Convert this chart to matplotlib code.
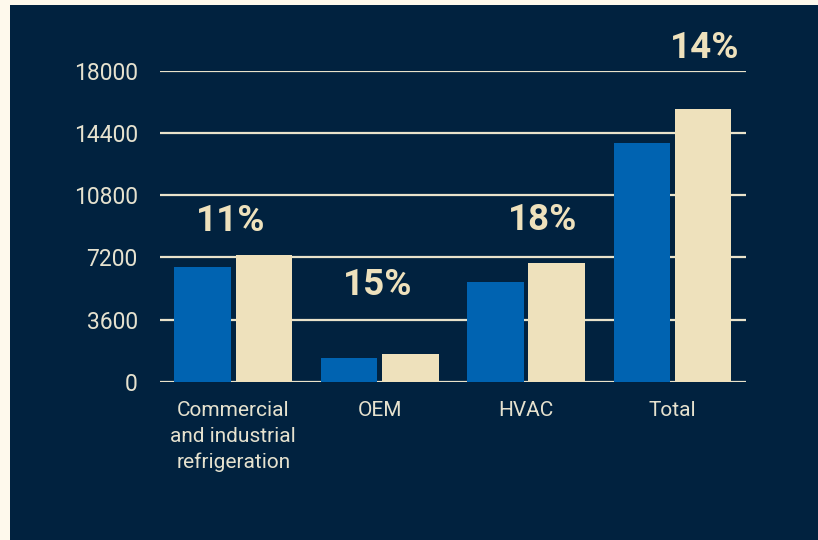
import matplotlib
matplotlib.use("Agg")
import matplotlib.pyplot as plt
from matplotlib.patches import Rectangle
import numpy as np

plt.rcParams['font.family'] = ['Roboto', 'DejaVu Sans']

# Data
categories = ["Commercial\nand industrial\nrefrigeration", "OEM", "HVAC", "Total"]
values_before = [6660, 1360, 5800, 13820]
values_after = [7340, 1580, 6890, 15800]
growth_labels = ["11%", "15%", "18%", "14%"]
y_ticks = [0, 3600, 7200, 10800, 14400, 18000]

# Layout of the growth labels (x offset from group centre, y in data units)
label_dx = [-0.02, -0.01, 0.11, 0.22]
label_y = [9320, 5600, 9370, 19320]

NAVY = '#01223F'
BLUE = '#0063B1'
BEIGE = '#EEE1BC'
CREAM = '#FEF9EC'
TEXT = '#E6E2CF'

W, H = 818, 540
fig = plt.figure(figsize=(W / 100, H / 100), dpi=100, facecolor=CREAM)
# navy panel, leaving a thin cream margin at the left and top
fig.patches.append(Rectangle((10 / W, 0), 1, 1 - 5 / H, transform=fig.transFigure,
                             facecolor=NAVY, edgecolor='none', zorder=-10))

ax = fig.add_axes([160 / W, (H - 381.7) / H, 585.7 / W, 310.7 / H])
ax.set_facecolor('none')

x = np.arange(len(categories))
bw = 0.386
off = 0.209
ax.bar(x - off, values_before, width=bw, color=BLUE, zorder=3)
ax.bar(x + off, values_after, width=bw, color=BEIGE, zorder=3)

for i, lab in enumerate(growth_labels):
    ax.text(x[i] + label_dx[i], label_y[i], lab, ha='center', va='center',
            fontsize=26.5, fontweight='bold', color=BEIGE, clip_on=False)

ax.set_xlim(-0.5, 3.5)
ax.set_ylim(0, 18000)
ax.set_yticks(y_ticks)
ax.set_yticklabels([str(v) for v in y_ticks])
ax.set_xticks(x)
ax.set_xticklabels(categories, linespacing=1.45)
ax.tick_params(axis='y', length=0, pad=16, labelsize=16.5, labelcolor=TEXT)
ax.tick_params(axis='x', length=0, pad=14, labelsize=15, labelcolor=TEXT)

ax.yaxis.grid(True, color='#E9E3CB', linewidth=1.6)
ax.set_axisbelow(True)
for s in ax.spines.values():
    s.set_visible(False)

fig.savefig("out.png", dpi=100, facecolor=CREAM)
